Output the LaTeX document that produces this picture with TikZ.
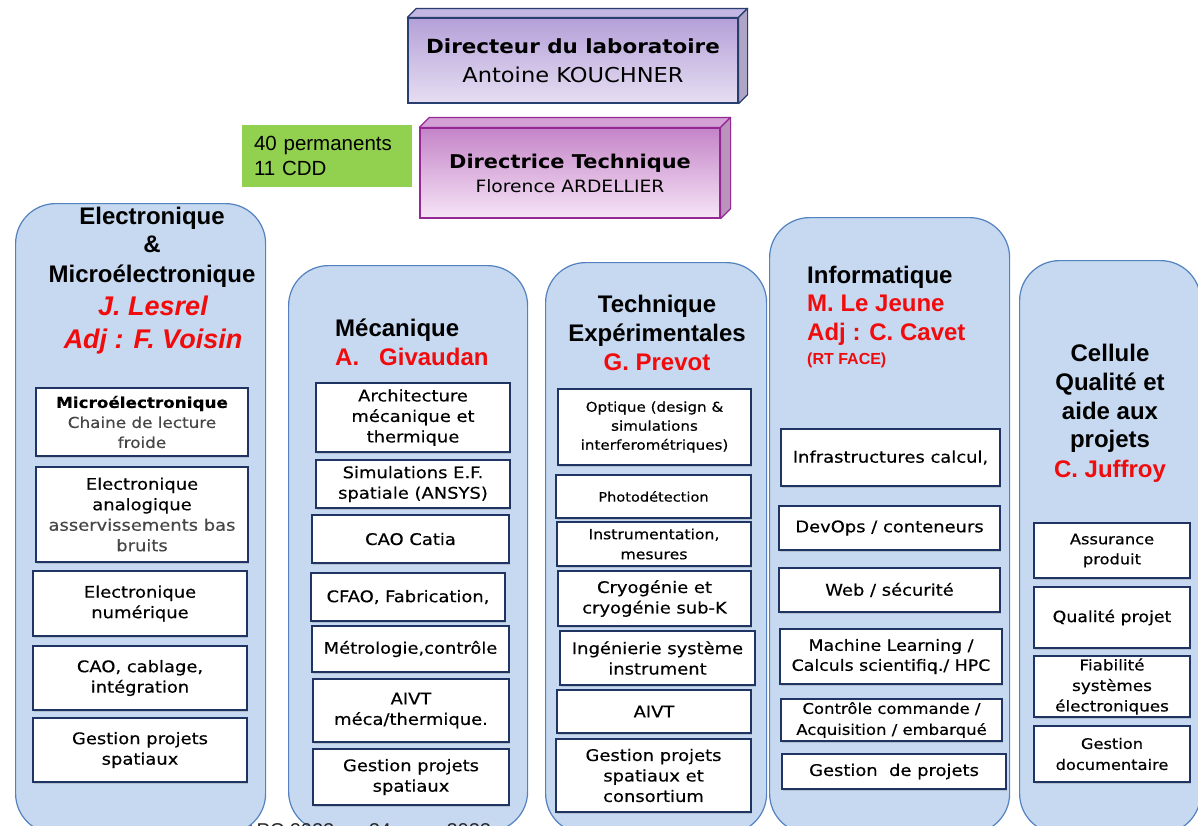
\documentclass[tikz,border=0pt]{standalone}
\usepackage{fontspec}
\setmainfont{Liberation Sans}
\newfontfamily\comic[FakeStretch=1.12,FakeBold=0.4]{DejaVu Sans}
\newfontfamily\comictop[FakeStretch=1.1]{DejaVu Sans}
\usetikzlibrary{shadows}
\definecolor{panelfill}{RGB}{198,217,240}
\definecolor{paneldraw}{RGB}{84,130,192}
\definecolor{navy}{RGB}{32,52,100}
\definecolor{hdred}{RGB}{240,12,12}
\definecolor{grnfill}{RGB}{146,208,80}
\definecolor{dirtop}{RGB}{180,160,216}
\definecolor{dirbot}{RGB}{230,222,242}
\definecolor{dirside}{RGB}{196,182,226}
\definecolor{dirdraw}{RGB}{40,62,110}
\definecolor{dttop}{RGB}{196,132,200}
\definecolor{dtbot}{RGB}{246,228,246}
\definecolor{dtside}{RGB}{210,160,212}
\definecolor{dtdraw}{RGB}{150,40,150}
\definecolor{softtext}{RGB}{70,70,70}
\tikzset{
  panel/.style={draw=paneldraw, fill=panelfill, line width=1.2pt, rounded corners=40pt, anchor=north west, inner sep=0pt},
  sub/.style={draw=navy, fill=white, line width=1.4pt, align=center, inner sep=1pt,
    font=\comic\fontsize{16}{20.5}\selectfont,
    drop shadow={shadow xshift=1.2pt, shadow yshift=-1.6pt, opacity=0.3}},
  hd/.style={font=\bfseries\fontsize{24}{28}\selectfont, anchor=base, inner sep=0pt},
  hdr/.style={hd, text=hdred},
  hdri/.style={hdr, font=\bfseries\itshape\fontsize{27}{30}\selectfont},
}
\newcommand\bx[7][]{\node[sub,#1,minimum width={#5-#3},minimum height={#6-#4}] (#2) at ({(#3+#5)/2},{(#4+#6)/2}) {#7};}
\begin{document}
\begin{tikzpicture}[x=1pt,y=-1pt]
\useasboundingbox (0,0) rectangle (1198,825);
\clip (0,0) rectangle (1198,825);
\fill[white] (0,0) rectangle (1198,825);

% top boxes
\node[draw=dirdraw, line width=1.2pt, top color=dirtop, bottom color=dirbot, minimum width=330, minimum height=85, align=center, font=\fontsize{20}{29}\selectfont] (dir) at (573,60.5) {{\comictop\bfseries\fontsize{19.5}{29}\selectfont Directeur du laboratoire}\\{\comictop\fontsize{20.5}{29}\selectfont Antoine KOUCHNER}};
\draw[draw=dirdraw, fill=dirside, line width=1.2pt, line join=round] (dir.north west) -- ++(9,-9) -- ([shift={(9,-9)}]dir.north east) -- (dir.north east) -- cycle;
\draw[draw=dirdraw, fill=dirside!85!black!90, line width=1.2pt, line join=round] (dir.north east) -- ++(9,-9) -- ([shift={(9,-9)}]dir.south east) -- (dir.south east) -- cycle;

\node[fill=grnfill, minimum width=170, minimum height=62, text width=146, align=left, inner sep=0pt, font=\fontsize{20.5}{25}\selectfont] (grn) at (327,156) {40 permanents\\11 CDD};

\node[draw=dtdraw, line width=1.2pt, top color=dttop, bottom color=dtbot, minimum width=300, minimum height=90, align=center, font=\fontsize{18}{24}\selectfont] (dt) at (570,173) {{\comictop\bfseries\fontsize{19}{24}\selectfont Directrice Technique}\\{\comictop\fontsize{17}{24}\selectfont Florence ARDELLIER}};
\draw[draw=dtdraw, fill=dtside, line width=1.2pt, line join=round] (dt.north west) -- ++(10,-10) -- ([shift={(10,-10)}]dt.north east) -- (dt.north east) -- cycle;
\draw[draw=dtdraw, fill=dtside!85!black!90, line width=1.2pt, line join=round] (dt.north east) -- ++(10,-10) -- ([shift={(10,-10)}]dt.south east) -- (dt.south east) -- cycle;

% panels (footer text lies between panel 2 and panel 1)
\node[panel, minimum width=239, minimum height=566] (p2) at (288,265) {};
\node[panel, minimum width=221, minimum height=571] (p3) at (545,262) {};
\node[panel, minimum width=240, minimum height=616] (p4) at (769,217) {};
\node[panel, minimum width=181, minimum height=573] (p5) at (1019,260) {};
\node[anchor=base west, inner sep=0pt, font=\fontsize{20}{24}\selectfont, text=black!85] (foot) at (243,837) {APC 2022 \quad\, 24 mars 2022};
\node[panel, minimum width=250, minimum height=630] (p1) at (15,203) {};

% headers panel 1
\node[hd] (h1a) at (152,224) {Electronique};
\node[hd] (h1b) at (152,252) {\&};
\node[hd] (h1c) at (152,282) {Microélectronique};
\node[hdri] (h1d) at (153,315) {J. Lesrel};
\node[hdri] (h1e) at (153,348) {Adj : F. Voisin};
% panel 2
\node[hd, anchor=base west] (h2a) at (335,336) {Mécanique};
\node[hdr, anchor=base west] (h2b) at (335,365) {A.\ \ \ Givaudan};
% panel 3
\node[hd] (h3a) at (657,312) {Technique};
\node[hd] (h3b) at (657,341) {Expérimentales};
\node[hdr] (h3c) at (657,370) {G. Prevot};
% panel 4
\node[hd, anchor=base west] (h4a) at (807,283) {Informatique};
\node[hdr, anchor=base west] (h4b) at (807,311) {M. Le Jeune};
\node[hdr, anchor=base west] (h4c) at (807,340) {Adj : C. Cavet};
\node[hdr, anchor=base west, font=\bfseries\fontsize{16}{18}\selectfont] (h4d) at (807,364) {(RT FACE)};
% panel 5
\node[hd] (h5a) at (1110,361) {Cellule};
\node[hd] (h5b) at (1110,390) {Qualité et};
\node[hd] (h5c) at (1110,419) {aide aux};
\node[hd] (h5d) at (1110,447) {projets};
\node[hdr] (h5e) at (1110,477) {C. Juffroy};

% panel 1 boxes
\bx[font=\comic\fontsize{15}{20}\selectfont]{e1}{36}{388}{248}{456}{\textbf{Microélectronique}\\\textcolor{softtext}{Chaine de lecture}\\\textcolor{softtext}{froide}}
\bx{e2}{36}{467}{248}{562}{Electronique\\analogique\\\textcolor{softtext}{asservissements bas}\\\textcolor{softtext}{bruits}}
\bx{e3}{33}{571}{247}{636}{Electronique\\numérique}
\bx{e4}{33}{646}{247}{710}{CAO, cablage,\\intégration}
\bx{e5}{33}{718}{247}{782}{Gestion projets\\spatiaux}

% panel 2 boxes
\bx{m1}{316}{383}{510}{452}{Architecture\\mécanique et\\thermique}
\bx{m2}{316}{460}{510}{508}{Simulations E.F.\\spatiale (ANSYS)}
\bx{m3}{312}{515}{509}{563}{CAO Catia}
\bx{m4}{311}{573}{505}{621}{CFAO, Fabrication,}
\bx{m5}{312}{626}{509}{672}{Métrologie,contrôle}
\bx{m6}{313}{679}{509}{742}{AIVT\\méca/thermique.}
\bx{m7}{313}{749}{509}{805}{Gestion projets\\spatiaux}

% panel 3 boxes
\bx[font=\comic\fontsize{13.5}{19}\selectfont]{t1}{558}{389}{751}{465}{Optique (design \&\\simulations\\interferométriques)}
\bx[font=\comic\fontsize{13}{18}\selectfont]{t2}{556}{475}{751}{518}{Photodétection}
\bx[font=\comic\fontsize{14}{20}\selectfont]{t3}{557}{522}{751}{566}{Instrumentation,\\mesures}
\bx{t4}{558}{571}{751}{626}{Cryogénie et\\cryogénie sub-K}
\bx{t5}{560}{631}{755}{685}{Ingénierie système\\instrument}
\bx{t6}{557}{690}{751}{733}{AIVT}
\bx{t7}{556}{739}{751}{812}{Gestion projets\\spatiaux et\\consortium}

% panel 4 boxes
\bx{i1}{781}{429}{1000}{486}{Infrastructures calcul,}
\bx{i2}{779}{506}{1000}{550}{DevOps / conteneurs}
\bx{i3}{779}{568}{1000}{612}{Web / sécurité}
\bx[font=\comic\fontsize{15.5}{20}\selectfont]{i4}{780}{629}{1002}{684}{Machine Learning /\\Calculs scientifiq./ HPC}
\bx[font=\comic\fontsize{14.7}{21}\selectfont]{i5}{781}{699}{1002}{741}{Contrôle commande /\\Acquisition / embarqué}
\bx{i6}{782}{754}{1006}{789}{Gestion\ \ de projets}

% panel 5 boxes
\bx[font=\comic\fontsize{14.5}{20}\selectfont]{q1}{1034}{523}{1190}{578}{Assurance\\produit}
\bx[font=\comic\fontsize{15.5}{20}\selectfont]{q2}{1034}{587}{1190}{648}{Qualité projet}
\bx[font=\comic\fontsize{15}{20.5}\selectfont]{q3}{1034}{656}{1190}{717}{Fiabilité\\systèmes\\électroniques}
\bx[font=\comic\fontsize{14.5}{21}\selectfont]{q4}{1034}{726}{1190}{782}{Gestion\\documentaire}
\end{tikzpicture}
\end{document}
